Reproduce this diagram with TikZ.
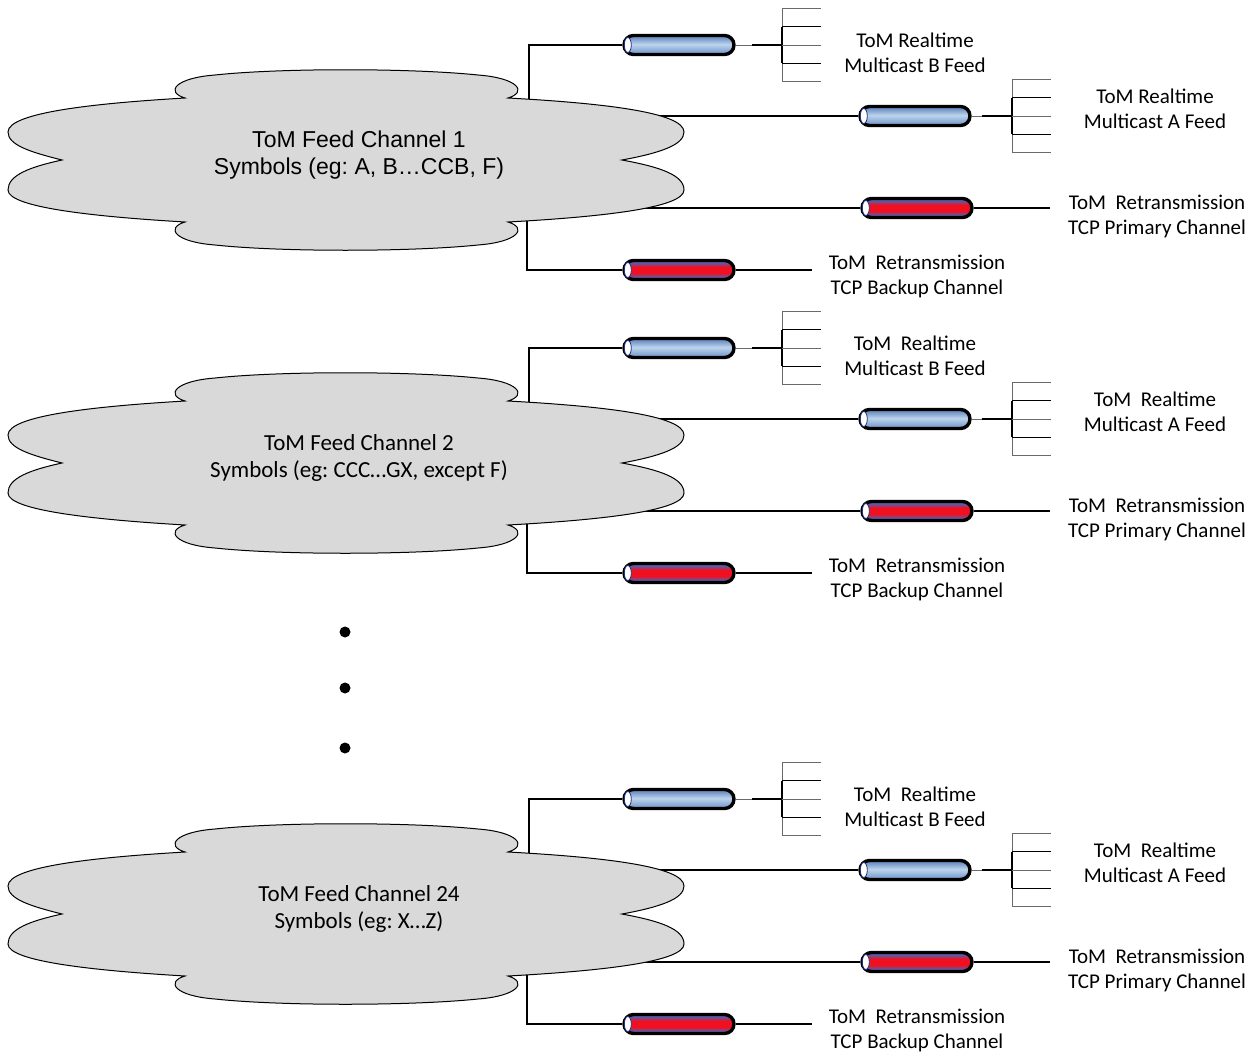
\documentclass[tikz,border=0pt]{standalone}
\usepackage{fontspec}
\setmainfont{Carlito}
\newfontfamily\arialf{Liberation Sans}
\usetikzlibrary{calc}
\frenchspacing

\definecolor{cloudgray}{HTML}{D9D9D9}
\definecolor{bluetop}{HTML}{6C90C4}
\definecolor{bluelight}{HTML}{BDD3EC}
\definecolor{bluebot}{HTML}{7A9ED0}
\definecolor{redmid}{HTML}{F01020}
\definecolor{rededge}{HTML}{5A5AA8}
\definecolor{navyend}{HTML}{1F2F80}
\definecolor{combgray}{HTML}{6A6A6A}

\pgfdeclareverticalshading{bluepipeshade}{100bp}{color(0bp)=(bluebot); color(30bp)=(bluebot); color(52bp)=(bluelight); color(70bp)=(bluetop); color(100bp)=(bluetop)}
\pgfdeclareverticalshading{redpipeshade}{100bp}{color(0bp)=(rededge); color(31bp)=(rededge); color(42bp)=(redmid); color(58bp)=(redmid); color(69bp)=(rededge); color(100bp)=(rededge)}

\tikzset{
 pipe/.style={rectangle, rounded corners=9.5pt, minimum height=19pt, minimum width=110pt, inner sep=0pt, line width=3.4pt, draw=black},
 bluepipe/.style={pipe, shading=bluepipeshade},
 redpipe/.style={pipe, shading=redpipeshade},
 lab/.style={align=center, inner sep=0pt, font=\fontsize{21}{25}\selectfont},
 cloudtxt/.style={align=center, inner sep=0pt},
 conn/.style={line width=1.2pt, draw=black},
 thinconn/.style={line width=1pt, draw=combgray},
 boldconn/.style={line width=2pt, draw=black},
 cloudfill/.style={fill=cloudgray, draw=black, line width=1pt},
 dotnode/.style={circle, fill=black, inner sep=0pt, minimum size=11pt},
}

\newcommand\pipeend[1]{\draw[navyend, line width=0.8pt, fill=white] ($(#1.west)+(5.5,0)$) ellipse [x radius=3.5pt, y radius=7.5pt];}

\newcommand\combat[1]{%
 \draw[thinconn] ($(#1)+(0,-36.5)$) -- ($(#1)+(0,36.5)$);
 \draw[line width=1.6pt] ($(#1)+(0,-18.25)$) -- ($(#1)+(0,18.25)$);
 \foreach \t in {-36.5,0,36.5} \draw[thinconn] ($(#1)+(0,\t)$) -- ++(39,0);
 \foreach \t in {-18.25,18.25} \draw[line width=1.1pt] ($(#1)+(0,\t)$) -- ++(39,0);
}

\newcommand\cloudshape{%
\path[cloudfill] (62,160) .. controls (30,152) and (8,145) .. (8,132)
 .. controls (8,112) and (100,103) .. (185,98)
 .. controls (165,92) and (175,78) .. (215,75)
 .. controls (280,68) and (410,68) .. (478,75)
 .. controls (518,78) and (528,92) .. (508,98)
 .. controls (600,103) and (684,112) .. (684,132)
 .. controls (684,145) and (660,153) .. (622,160)
 .. controls (660,167) and (684,175) .. (684,190)
 .. controls (684,208) and (600,217) .. (508,222)
 .. controls (528,228) and (518,242) .. (478,245)
 .. controls (410,252) and (280,252) .. (215,245)
 .. controls (175,242) and (165,228) .. (185,222)
 .. controls (100,217) and (8,208) .. (8,190)
 .. controls (8,175) and (30,167) .. (62,160) -- cycle;
}

% #1 id, #2 vertical offset, #3 cloud text, #4 first label line of realtime feeds, #5 cloud font
\newcommand\tomgroup[5]{%
\begin{scope}[yshift=-#2pt]
 \node[bluepipe] (pB#1) at (679,45) {};
 \node[bluepipe] (pA#1) at (915,116) {};
 \node[redpipe] (pP#1) at (917,208) {};
 \node[redpipe] (pK#1) at (679,270) {};
 \pipeend{pB#1}\pipeend{pA#1}\pipeend{pP#1}\pipeend{pK#1}
 \coordinate (cB#1) at (529,110);
 \coordinate (cA#1) at (620,116);
 \coordinate (cP#1) at (646,200);
 \coordinate (cK#1) at (527,215);
 \coordinate (mB#1) at (782,45);
 \coordinate (mA#1) at (1012,116);
 \coordinate (eP#1) at (1050,208);
 \coordinate (eK#1) at (812,270);
 \draw[conn] (cB#1) |- (pB#1.west);
 \draw[conn] (cA#1) -- (pA#1.west);
 \draw[conn] (cP#1) |- (pP#1.west);
 \draw[conn] (cK#1) |- (pK#1.west);
 \draw[boldconn] ($(pP#1.west)+(-52,0)$) -- (pP#1.west);
 \draw[boldconn] ($(pK#1.west)+(-51,0)$) -- (pK#1.west);
 \draw[thinconn] (pB#1.east) -- (mB#1);
 \draw[boldconn] ($(pB#1.east)+(16,0)$) -- (mB#1);
 \draw[thinconn] (pA#1.east) -- (mA#1);
 \draw[boldconn] ($(pA#1.east)+(10,0)$) -- (mA#1);
 \draw[conn] (pP#1.east) -- (eP#1);
 \draw[conn] (pK#1.east) -- (eK#1);
 \combat{mB#1}
 \combat{mA#1}
 \node[lab] (lB#1) at (915,52.5) {#4\\Multicast B Feed};
 \node[lab] (lA#1) at (1155,108.5) {#4\\Multicast A Feed};
 \node[lab] (lP#1) at (1157,216) {ToM\ \ Retransmission\\TCP Primary Channel};
 \node[lab] (lK#1) at (917,276) {ToM\ \ Retransmission\\TCP Backup Channel};
 \cloudshape
 \node[cloudtxt, font=#5\fontsize{23}{27}\selectfont] (t#1) at (359,155) {#3};
\end{scope}}

\begin{document}
\begin{tikzpicture}[x=1pt,y=-1pt]
\fill[white] (0,0) rectangle (1256,1052);
\useasboundingbox (0,0) rectangle (1256,1052);
\tomgroup{1}{0}{ToM Feed Channel 1\\Symbols (eg: A, B…CCB, F)}{ToM Realtime}{\arialf}
\tomgroup{2}{303}{ToM Feed Channel 2\\Symbols (eg: CCC…GX, except F)}{ToM\ \ Realtime}{\rmfamily}
\tomgroup{3}{754}{ToM Feed Channel 24\\Symbols (eg: X…Z)}{ToM\ \ Realtime}{\rmfamily}
\node[dotnode] (d1) at (345,632) {};
\node[dotnode] (d2) at (345,688) {};
\node[dotnode] (d3) at (345,748) {};
\end{tikzpicture}
\end{document}
